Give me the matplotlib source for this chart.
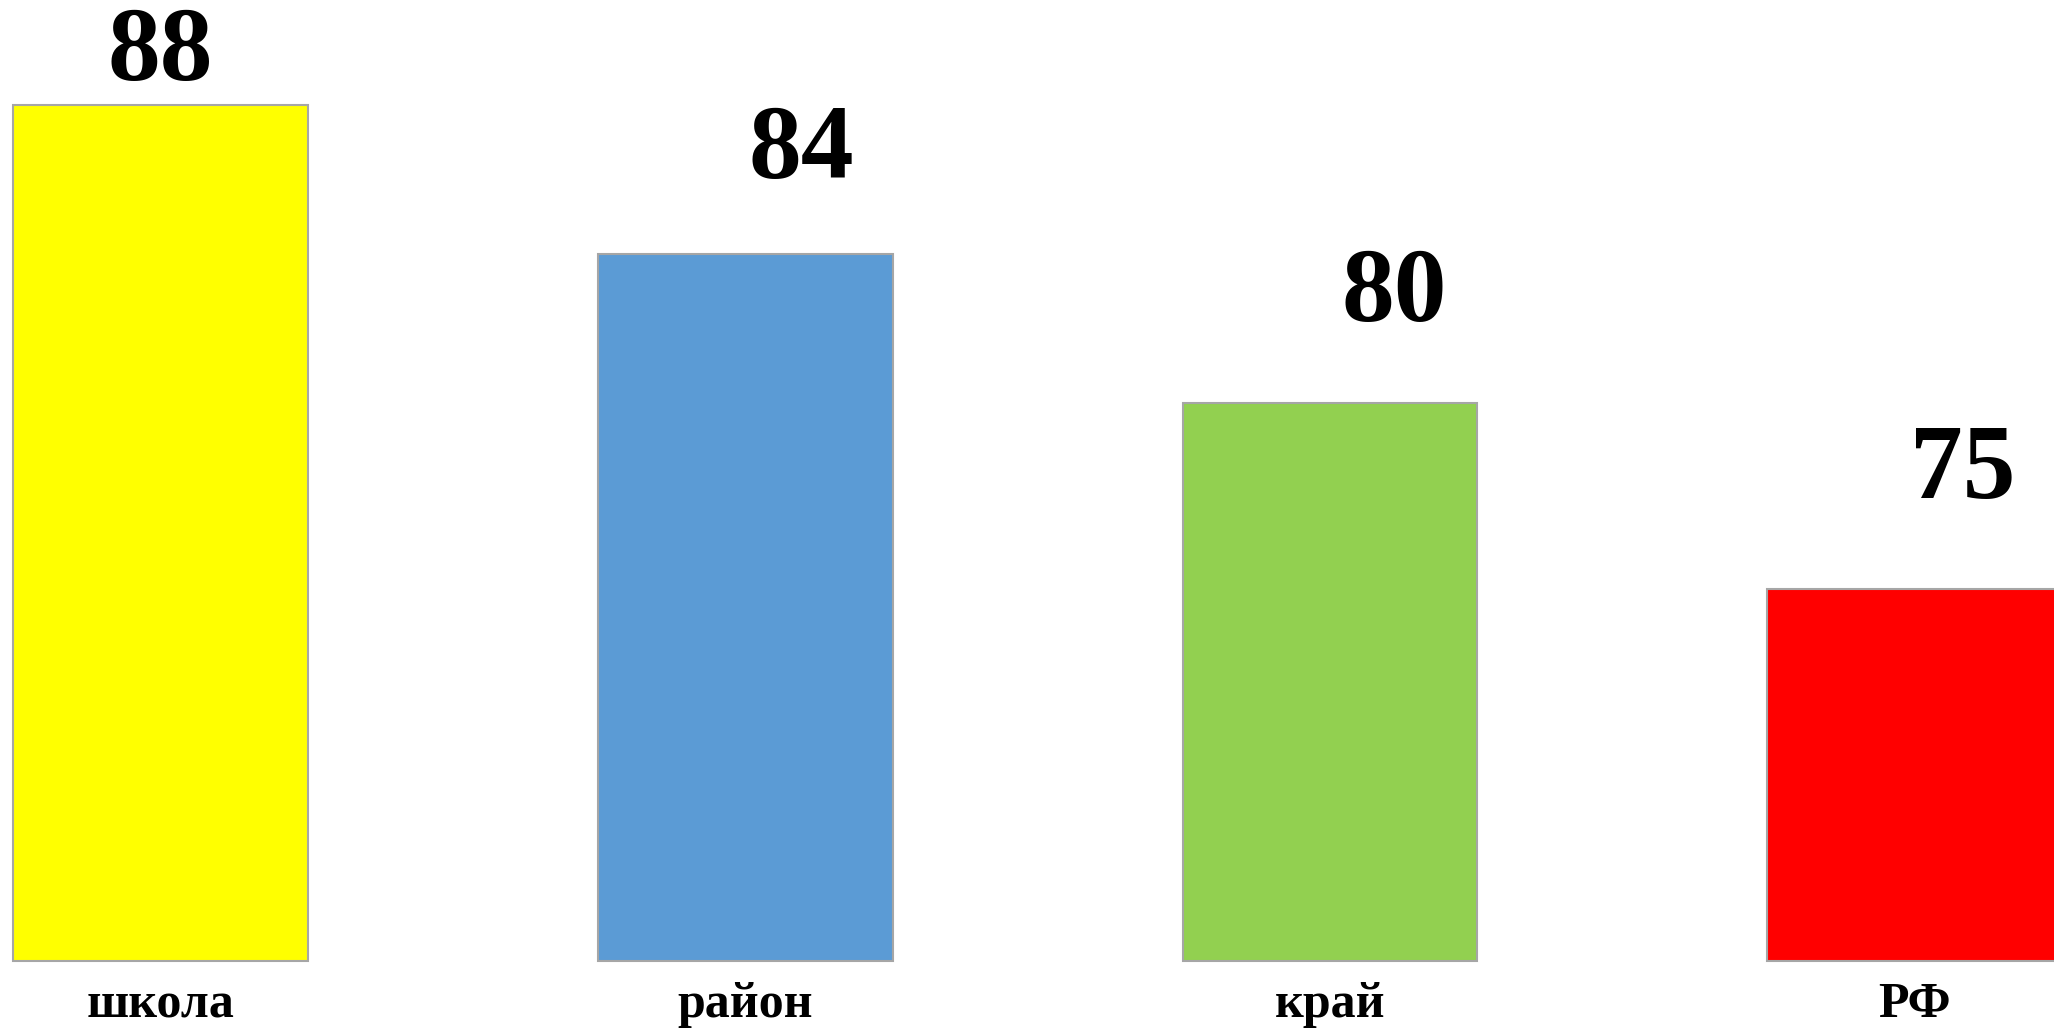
import matplotlib.pyplot as plt

categories = ["школа", "район", "край", "РФ"]
values = [88, 84, 80, 75]
colors = ["#FFFF00", "#5B9BD5", "#92D050", "#FF0000"]
base = 65

# label offsets in pixels (dx, dy above bar top)
label_dx = [0, 56, 64, 48]
label_dy = [25, 76, 82, 91]

fig = plt.figure(figsize=(20.54, 10.28), dpi=100)
ax = fig.add_axes([0, 0, 1, 1])
x = list(range(len(categories)))
ax.bar(x, [v - base for v in values], bottom=base, width=0.504,
       color=colors, edgecolor="#a6a6a6", linewidth=1.5)

for i, v in enumerate(values):
    ax.annotate(str(v), (x[i], v), xytext=(label_dx[i], label_dy[i]),
                textcoords="offset pixels", ha="center", va="baseline",
                fontsize=76, fontweight="bold", family="Liberation Serif")
    ax.annotate(categories[i], (x[i], base), xytext=(0, -56),
                textcoords="offset pixels", ha="center", va="baseline",
                fontsize=36, fontweight="bold", family="Liberation Serif")

ax.set_xlim(-0.2745, 3.238)
ax.set_ylim(63.2, 90.83)
ax.axis("off")
fig.savefig("out.png", dpi=100)
